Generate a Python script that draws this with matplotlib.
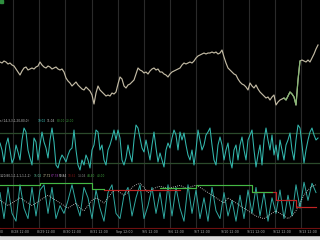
import matplotlib
matplotlib.use('Agg')
import matplotlib.pyplot as plt
import numpy as np

# ---------------- data ----------------
price = [78.38,78.37,78.39,78.38,78.36,78.37,78.35,78.34,78.31,78.28,
         78.25,78.29,78.32,78.33,78.30,78.31,78.32,78.31,78.33,78.34,
         78.38,78.35,78.33,78.32,78.34,78.33,78.31,78.32,78.33,78.31,
         78.30,78.31,78.28,78.22,78.19,78.17,78.14,78.16,78.18,78.15,
         78.13,78.11,78.10,78.13,78.11,78.09,78.05,77.96,78.07,78.14,
         78.10,78.08,78.06,78.04,78.05,78.04,78.07,78.06,78.08,78.16,
         78.23,78.21,78.14,78.12,78.15,78.16,78.18,78.20,78.26,78.32,
         78.30,78.29,78.27,78.28,78.26,78.29,78.31,78.32,78.30,78.31,
         78.28,78.28,78.26,78.25,78.23,78.26,78.28,78.29,78.30,78.31,
         78.32,78.35,78.37,78.36,78.37,78.38,78.37,78.39,78.42,78.44,
         78.45,78.46,78.47,78.46,78.47,78.47,78.48,78.47,78.48,78.46,
         78.47,78.50,78.43,78.37,78.32,78.30,78.28,78.26,78.25,78.21,
         78.18,78.16,78.15,78.13,78.10,78.17,78.14,78.12,78.15,78.11,
         78.08,78.06,78.04,78.02,78.03,78.00,78.03,78.05,77.95,77.98,
         78.00,78.01,78.02,78.00,78.04,78.08,78.06,78.03,77.95,78.20,
         78.39,78.40,78.39,78.38,78.40,78.38,78.42,78.46,78.51,78.55]

stoch_k = [60,46,22,56,70,46,20,30,56,42,
           26,66,90,82,46,30,16,70,62,26,
           56,82,62,50,30,66,90,62,16,10,
           26,36,30,22,36,46,50,86,46,16,
           6,26,16,36,26,10,46,56,86,82,
           46,56,26,16,46,56,70,86,66,86,
           70,26,16,30,56,36,22,66,96,90,
           70,50,42,66,46,26,56,82,50,22,
           40,26,12,46,60,50,70,86,76,46,
           82,66,80,56,36,26,46,16,46,86,
           66,46,56,76,82,90,56,26,16,56,
           72,56,26,46,60,26,10,46,56,26,
           56,72,46,26,66,76,86,46,12,36,
           56,16,66,90,66,46,76,36,56,26,
           66,46,26,56,66,80,46,26,66,96,
           90,56,20,46,66,82,90,76,66,70]
stoch_levels = [80, 20]

osc3 = [70,20,80,30,15,85,40,20,80,25,
        75,85,30,80,20,45,30,55,85,50,
        25,80,60,20,75,40,15,70,85,30,
        20,65,80,25,60,85,20,45,80,30,
        70,20,85,25,80,40,15,85,30,75,
        20,60,15,80,35,20,70,25,55,15,
        65,20,75,30,80,25,70,15,60,30,
        75,20,65,25,85,40,90,55,88,70]

nan = np.nan
green_step = [85]*10 + [89]*13 + [76]*3 + [nan]*14 + [79]*9 + [85]*14 + [71]*5 + [nan]*12
red_step = [nan]*26 + [75]*19 + [nan]*18 + [71]*6 + [56]*5 + [42]*6
white_dots = [55,50,45,50,55,60,55,50,45,50,
              55,60,65,60,55,50,45,40,45,50,
              40,35,45,55,60,55,50,60,70,75,
              70,65,70,80,85,88,80,70,75,80,
              82,80,78,80,82,84,80,78,82,84,
              80,75,70,65,60,55,50,60,55,50,
              45,40,35,30,25,22,20,25,30,35,
              30,25,20,25,35,50,65,75,82,85]

tick_labels = ["8/27 12:00", "8/28 12:00", "8/29 12:00", "8/30 12:00", "8/31 12:00",
               "Sep 12:00", "9/5 12:00", "9/6 12:00", "9/7 12:00", "9/10 12:00",
               "9/11 12:00", "9/12 12:00", "9/13 12:00"]

stoch_label = "s (14,3,3,1,20,80,0)"
stoch_values = ["19.02", "11.04", "80.00", "20.00"]
ind3_label = "3,20,80,1,1,1,1,1,1,1)"
ind3_values = ["15.02", "77.72", "67.78", "50.84", "18.62", "14.04", "44.40", "40.00"]

# ---------------- layout ----------------
W, H = 320, 240
fig = plt.figure(figsize=(3.2, 2.4), dpi=100, facecolor='black')

XMAX = 160
bars_per_session = 13.1
first_tick = 6.5 - bars_per_session
tick_pos = [first_tick + bars_per_session * k for k in range(len(tick_labels))]

def mk(top, bottom):
    ax = fig.add_axes([0, 1 - bottom / H, 1, (bottom - top) / H])
    ax.set_facecolor('black')
    for s in ax.spines.values():
        s.set_visible(False)
    ax.set_xticks([]); ax.set_yticks([])
    ax.set_xlim(0, XMAX)
    for t in tick_pos:
        ax.axvline(t, color='#2a2a2a', lw=0.8, zorder=0)
    return ax

ax1 = mk(0, 118)
ax2 = mk(118, 172)
ax3 = mk(172, 229)

# price
x = np.arange(len(price))
ax1.plot(x, price, color='#c2baa4', lw=0.85)
ax1.plot(x[142:151], price[142:151], color='#86b874', lw=0.85)
ax1.set_ylim(77.82, 79.00)
ax1.add_patch(plt.Rectangle((0, 0.975), 0.01, 0.025, transform=ax1.transAxes,
                            color='#2f8f3f', zorder=5))

# stochastic
ax2.set_ylim(2, 110)
for lv in stoch_levels:
    ax2.axhline(lv, color='#2b4a2b', lw=0.9)
ax2.plot(np.arange(len(stoch_k)), stoch_k, color='#33b8ae', lw=0.75)

# third indicator
ax3.set_ylim(0, 109.6)
x3 = np.arange(len(osc3)) * 2
ax3.plot(x3, osc3, color='#30aaa2', lw=0.7)
ax3.plot(x3, white_dots, color='#e0e0e0', lw=0.6, ls=(0, (1, 1.5)))
ax3.plot(x3, red_step, color='#c02424', lw=0.85, drawstyle='steps-post')
ax3.plot(x3, green_step, color='#44b844', lw=0.85, drawstyle='steps-post')
ax3.axhline(1.9, color='#8a1414', lw=0.8)

# bottom axis strip
axb = fig.add_axes([0, 0, 1, 11 / H])
axb.set_facecolor('black')
axb.set_xlim(0, XMAX); axb.set_ylim(0, 11)
axb.axis('off')
axb.add_patch(plt.Rectangle((0, 0), XMAX, 5, color='#dcdcdc', clip_on=False))
axb.add_patch(plt.Rectangle((0, 5), XMAX, 6, color='black', clip_on=False))
for t, lab in zip(tick_pos, tick_labels):
    axb.text(t - 1.0, 8, lab, color='#b0b0b0', fontsize=2.3, ha='left', va='center')

# panel labels
def ftext(px, py, s, c):
    fig.text(px / W, 1 - py / H, s, color=c, fontsize=2.1, ha='left', va='center')

ftext(0, 121, stoch_label, '#c0c0c0')
for px, s, c in zip([38, 47, 57, 66], stoch_values, ['#40c8c0', '#c0c0c0', '#3a9a3a', '#3a9a3a']):
    ftext(px, 121, s, c)

ftext(0, 176, ind3_label, '#c0c0c0')
for px, s, c in zip([34, 43, 51, 59, 68, 78, 87, 97], ind3_values,
                    ['#60c8a0', '#d0c8a0', '#a040b8', '#dcdcdc', '#801818', '#888888', '#40a840', '#40a840']):
    ftext(px, 176, s, c)

fig.savefig('out.png', dpi=100, facecolor='black')
